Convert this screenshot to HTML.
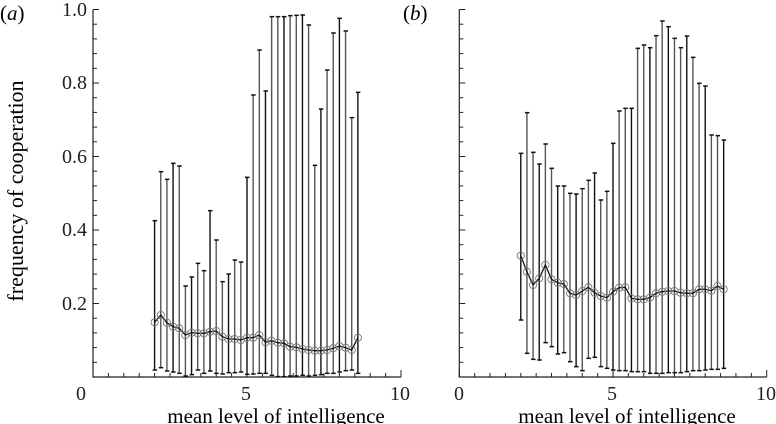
<!DOCTYPE html>
<html><head><meta charset="utf-8"><style>
html,body{margin:0;padding:0;background:#fff;}
svg{display:block;font-family:"Liberation Serif",serif;}
</style></head><body>
<svg id="s" width="776" height="424" viewBox="0 0 776 424" xmlns="http://www.w3.org/2000/svg">
<text x="0" y="20" font-size="21">(<tspan font-style="italic">a</tspan>)</text>
<text x="403" y="20" font-size="21">(<tspan font-style="italic">b</tspan>)</text>
<text transform="translate(23,191) rotate(-90)" font-size="22" text-anchor="middle">frequency of cooperation</text>
<g font-size="20" text-anchor="end" fill="#222">
<text x="87" y="16">1.0</text><text x="87" y="89">0.8</text><text x="87" y="163">0.6</text><text x="87" y="236">0.4</text><text x="87" y="310">0.2</text>
</g>
<g font-size="20" text-anchor="middle" fill="#222">
<text x="81" y="400">0</text><text x="246" y="400">5</text><text x="400" y="400">10</text>
<text x="459" y="400">0</text><text x="612" y="400">5</text><text x="766" y="400">10</text>
</g>
<text x="276" y="423" font-size="21" text-anchor="middle">mean level of intelligence</text>
<text x="627" y="423" font-size="21" text-anchor="middle">mean level of intelligence</text>
<g id="g"></g>
</svg>
<script>
var g=document.getElementById('g'),h='';
function L(x1,y1,x2,y2,c,w){h+='<line x1="'+x1+'" y1="'+y1+'" x2="'+x2+'" y2="'+y2+'" stroke="'+(c||'#222')+'" stroke-width="'+(w||1)+'"/>';}
function axes(x0,x10){
 L(x0,9.5,x0,377.5,'#222',1.2);L(x0,377,x10,377,'#222',1.2);
 for(var i=0;i<=25;i++){var y=377-i*0.04*367.5;L(x0,y,x0+(i%5==0?6:4),y);}
 for(var i=0;i<=20;i++){var x=x0+(x10-x0)*i/20;L(x,377,x,377-(i%10==0?7:4));}
}
axes(93,401);axes(459.3,766.7);
var A={t:[662,515,538,490,498,858,831,790,812,632,720,845,822,780,786,532,285,150,273,50,50,50,47,46,45,75,496,327,210,99,55,93,353,277],
b:[1110,1103,1113,1116,1120,1128,1124,1110,1120,1113,1120,1122,1118,1118,1116,1123,1122,1120,1120,1126,1130,1130,1128,1128,1126,1128,1126,1124,1120,1120,1116,1112,1110,1120],
m:[967,945,968,980,985,1005,998,1000,1000,995,993,1010,1017,1017,1020,1013,1013,1005,1027,1022,1028,1030,1040,1042,1047,1050,1052,1052,1050,1045,1038,1043,1050,1013]};
var B={t:[460,338,457,492,432,505,558,558,580,582,566,541,519,600,574,430,333,325,325,145,135,143,107,63,80,115,143,108,172,250,258,405,407,420],
b:[960,1060,1078,1080,1028,1040,1062,1058,1085,1100,1112,1075,1072,1100,1105,1110,1112,1112,1115,1115,1115,1120,1120,1120,1118,1118,1118,1115,1112,1112,1110,1108,1108,1105],
m:[767,815,855,835,795,838,848,852,880,885,873,862,878,888,893,875,863,862,895,898,898,893,880,875,873,873,878,880,880,868,868,872,858,868]};
function series(D,x0,x10){
 var pts=[];
 for(var i=0;i<34;i++){
  var x=x0+(x10-x0)*(2+0.2*i)/10,t=D.t[i]/3,b=D.b[i]/3,m=D.m[i]/3;
  var c=(i%3==0)?'#111':'#555';
  L(x,t,x,b,c,1.4);L(x-2,t,x+2.5,t,'#111',1.5);L(x-2,b,x+2.5,b,'#111',1.5);
  pts.push(x.toFixed(1)+','+m.toFixed(1));
 }
 h+='<polyline points="'+pts.join(' ')+'" fill="none" stroke="#111" stroke-width="1.3"/>';
 pts.forEach(function(p){var q=p.split(',');h+='<circle cx="'+q[0]+'" cy="'+q[1]+'" r="3.6" fill="none" stroke="#777" stroke-width="0.9"/>';});
}
series(A,93,401);series(B,459.3,766.7);
g.innerHTML=h;
</script>
</body></html>
